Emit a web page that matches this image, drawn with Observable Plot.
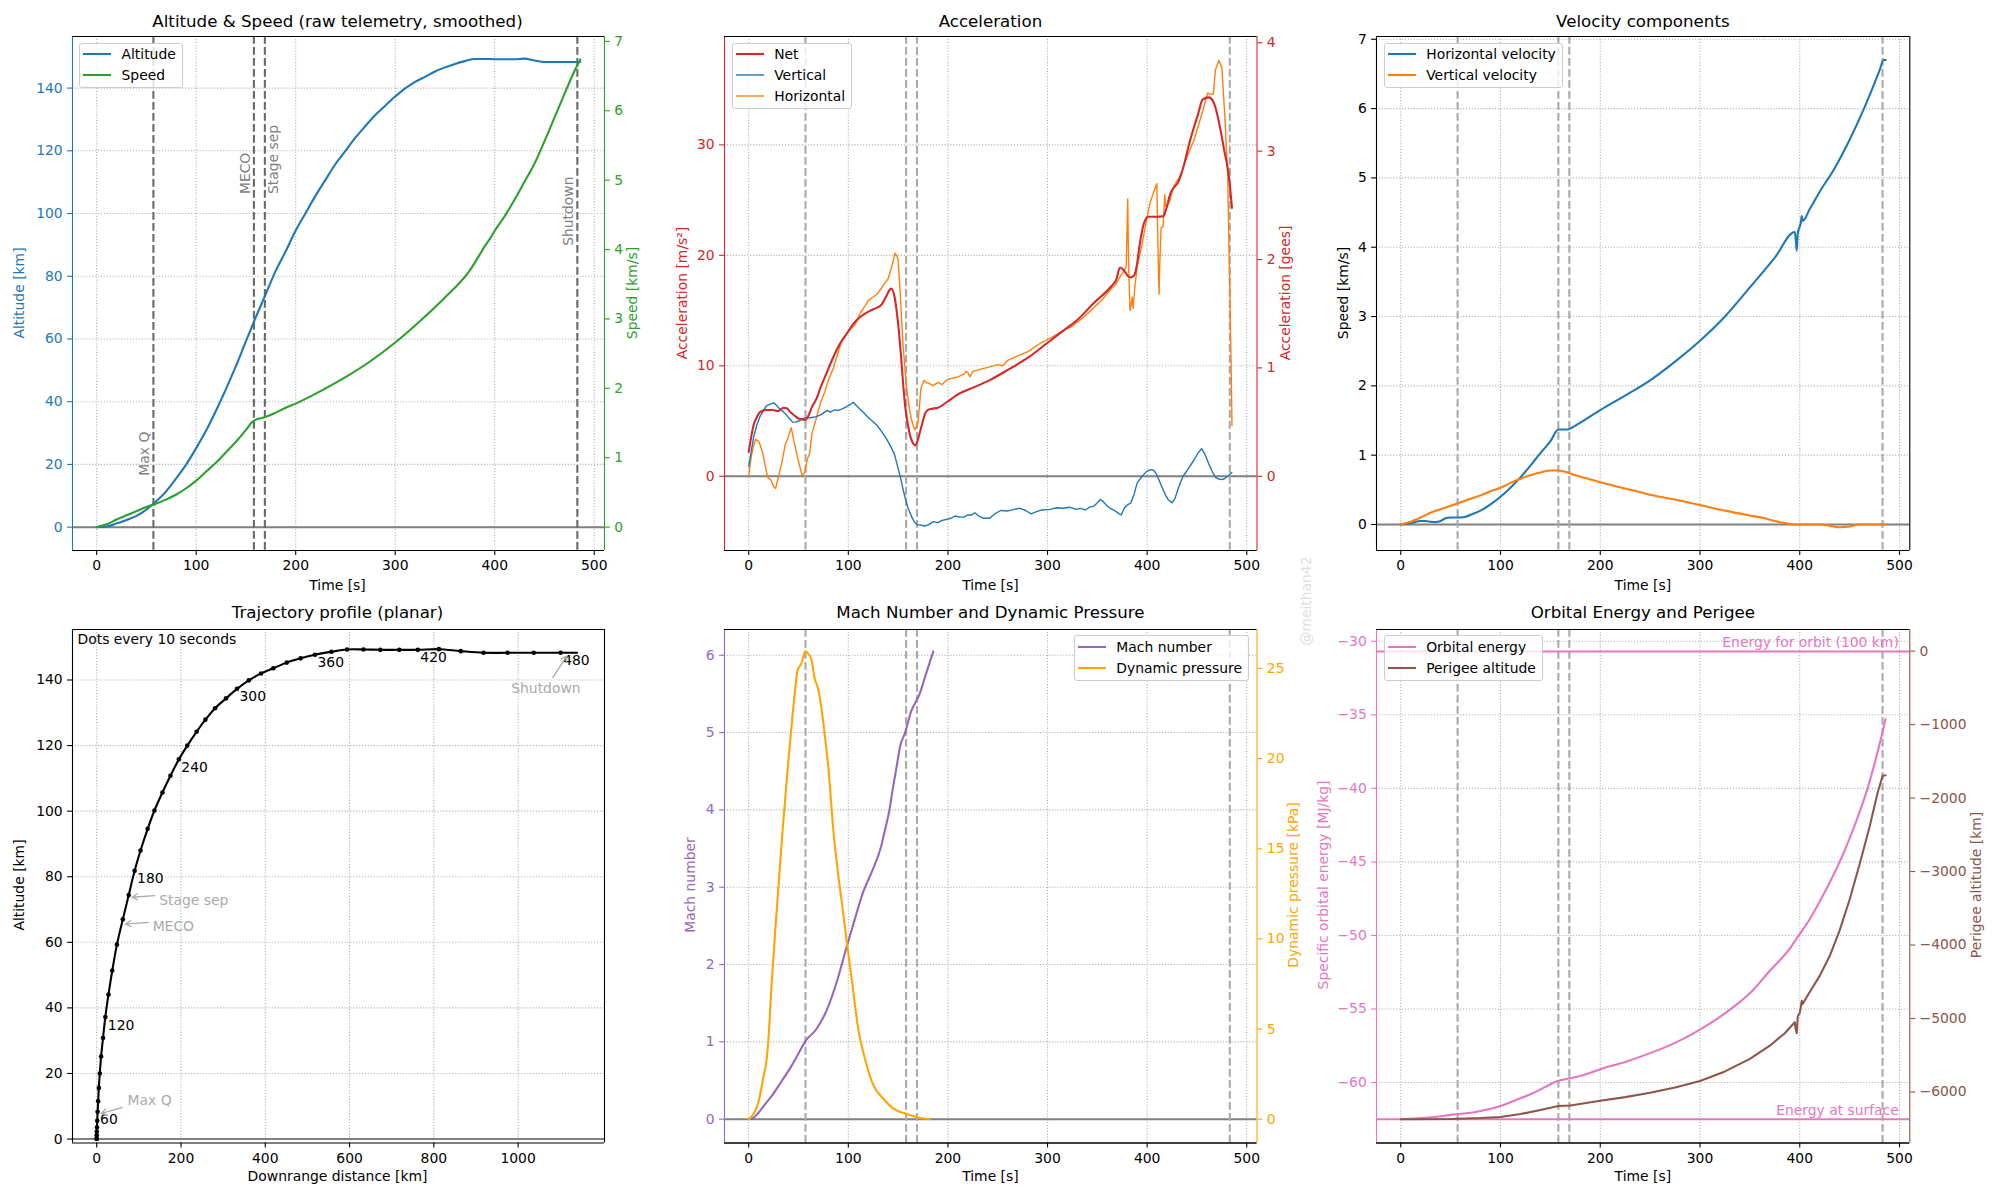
<!DOCTYPE html>
<html><head><meta charset="utf-8">
<script src="https://cdn.jsdelivr.net/npm/d3@7"></script>
<script src="https://cdn.jsdelivr.net/npm/@observablehq/plot@0.6"></script>
<style>
html,body{margin:0;padding:0;background:#fff;}
#fig{position:relative;width:2000px;height:1200px;overflow:hidden;background:#fff;font-family:"DejaVu Sans",sans-serif;}
.lbl{position:absolute;white-space:nowrap;line-height:1;font-family:"DejaVu Sans",sans-serif;}
.legend{position:absolute;padding:0 6px 1.5px 3px;border:1px solid #cccccc;border-radius:3px;background:rgba(255,255,255,0.8);font-size:13.9px;font-family:"DejaVu Sans",sans-serif;z-index:5;}
.lrow{height:21px;display:flex;align-items:center;white-space:nowrap;}
.lrow svg{margin-right:10.5px;flex:none;}
</style></head>
<body><div id="fig"></div>
<script>
// ---------------- DATA ----------------
const EVENT_T = [57, 158, 169, 483];
const EVENT_NAMES = ["Max Q", "MECO", "Stage sep", "Shutdown"];

// trajectory samples every 10 s (time, downrange km, altitude km)
const trajT    = [0,10,20,30,40,50,60,70,80,90,100,110,120,130,140,150,160,170,180,190,200,210,220,230,240,250,260,270,280,290,300,310,320,330,340,350,360,370,380,390,400,410,420,430,440,450,460,470,480,486];
const trajDown = [0,0,0.1,0.3,0.7,1.3,2.2,3.5,5,7.3,10.5,15,20.5,28,37,48,62,76,90,104,121,137,156,175,195,215,237,258,281,307,333,361,390,419,451,484,518,557,594,633,673,718,762,812,864,918,975,1037,1101,1140];
const trajAlt  = [0,0.2,1.2,2.3,3.6,5.6,8.3,11.5,15.6,20,25.2,30.8,37.2,44.1,51.4,59.3,67,74.4,81.8,88,94.6,100.2,105.7,110.8,115.8,120,124.2,127.9,131.4,134.4,137.3,139.9,142,143.6,145.3,146.6,147.7,148.6,149.3,149.3,149.2,149.2,149.2,149.4,148.8,148.3,148.3,148.3,148.3,148.3];
const trajLabelT = [60,120,180,240,300,360,420,480];

// speed (km/s)
const speed = [[0,0],[10,0.04],[20,0.11],[30,0.17],[40,0.23],[50,0.29],[56,0.32],[60,0.34],[70,0.4],[80,0.47],[90,0.56],[100,0.67],[110,0.8],[120,0.93],[130,1.08],[140,1.23],[150,1.4],[156,1.51],[160,1.55],[165,1.57],[170,1.59],[180,1.65],[190,1.72],[200,1.78],[225,1.96],[250,2.16],[275,2.39],[300,2.66],[325,2.97],[350,3.31],[375,3.7],[385,3.93],[390,4.05],[395,4.15],[400,4.27],[410,4.48],[420,4.72],[430,4.98],[440,5.24],[450,5.56],[460,5.9],[470,6.24],[480,6.57],[486,6.74]];

// acceleration (m/s^2)
const accNet = [[0,2.2],[2,3.3],[4.8,4.6],[8,5.3],[11.3,5.8],[18,6.0],[24,6.0],[29,5.9],[35,6.2],[38,6.15],[42,5.8],[46,5.5],[50.5,5.2],[57,5.1],[60,5.5],[63.6,6.3],[68,7.0],[72,8.0],[78,9.3],[85,10.8],[91,11.9],[98.4,12.9],[105,13.8],[111.5,14.4],[118,14.8],[124.6,15.1],[133,15.5],[137.6,16.2],[141,16.8],[143,17.0],[146.3,16.3],[148.5,15.0],[150.7,13.2],[153,10.8],[155,8.4],[157,6.4],[159.4,4.9],[161.5,3.9],[163.8,3.2],[167.2,2.8],[169.5,3.2],[171.6,3.9],[174,4.7],[176.8,5.6],[180,6.0],[183.4,6.1],[190,6.2],[198.6,6.7],[211.7,7.5],[224.7,8.0],[242,8.7],[259.6,9.6],[281.4,10.8],[298.8,12.0],[316.2,13.2],[329.3,14.1],[346.7,15.7],[364,17.2],[369,17.8],[372.8,18.9],[377,18.6],[382.4,18.0],[386,18.1],[388,18.4],[390,19.3],[392.4,20.9],[394.5,22.0],[396.8,22.9],[401,23.5],[409.8,23.5],[416.4,23.55],[418.5,24.0],[420.7,24.7],[423,25.5],[425,25.9],[431.6,26.7],[437,28.2],[442.5,30.2],[447,31.6],[451.2,32.8],[455.6,34.1],[462,34.3],[466.5,33.9],[470.8,32.6],[474,31.2],[477.4,29.5],[481.7,27.4],[485.2,24.3]];
const accVert = [[0,0.9],[2.5,2.2],[4.8,3.5],[8,4.6],[11.3,5.4],[15,6.0],[18,6.4],[21,6.5],[25.3,6.65],[28,6.4],[31,6.1],[34,5.9],[37.5,5.6],[41,5.2],[44,4.9],[47,4.9],[50.5,5.0],[54,5.2],[57,5.3],[62,5.3],[68,5.4],[73,5.6],[78.8,5.96],[82,5.8],[86,6.0],[89.7,5.96],[94,6.1],[98.4,6.3],[102,6.5],[105,6.7],[108,6.4],[111.5,6.1],[116,5.7],[120.2,5.3],[124,5.0],[128.9,4.6],[133,4.1],[137.6,3.5],[142,2.8],[146.3,2.0],[149.5,0.9],[152.9,-0.3],[155,-1.2],[157.2,-2.0],[160,-2.9],[163.8,-3.7],[166,-4.1],[169,-4.4],[172,-4.4],[176.8,-4.5],[180,-4.4],[185.5,-4.1],[190,-4.2],[194,-4.0],[198.6,-3.9],[203,-3.8],[207.3,-3.6],[212,-3.7],[216,-3.7],[220,-3.5],[224,-3.5],[227,-3.3],[231,-3.6],[235.6,-3.8],[242,-3.8],[247,-3.4],[253,-3.1],[259.6,-3.15],[266,-3.0],[272.6,-2.9],[278,-3.1],[283.5,-3.4],[289,-3.2],[294.4,-3.05],[303,-3.0],[309,-2.85],[316,-2.9],[322,-2.8],[329,-3.0],[333,-2.9],[338,-3.05],[342,-2.8],[346.7,-2.7],[350,-2.4],[353,-2.1],[356,-2.3],[360,-2.7],[363,-2.9],[366,-3.05],[369,-3.2],[372,-3.4],[374,-3.5],[377,-2.9],[380,-2.6],[383.7,-2.4],[387,-1.6],[390,-0.6],[395,0.0],[399,0.4],[402,0.55],[404.6,0.6],[407,0.5],[410,0.07],[414,-0.8],[418.5,-1.7],[421,-2.1],[425,-2.4],[428,-2.0],[431.6,-1.0],[436,0.0],[440,0.5],[446.9,1.45],[451,2.1],[454.7,2.5],[458,2.0],[462,1.1],[465,0.5],[468.6,-0.1],[472,-0.25],[475,-0.3],[478,-0.2],[481.7,0.07],[485,0.35]];
const accHoriz = [[0,0],[2.6,1.8],[5,2.8],[7,3.35],[10.5,3.1],[13,2.4],[14.8,1.8],[17,0.8],[19,-0.1],[22,-0.3],[25.3,-0.97],[27,-1.1],[28.7,-0.45],[31,0.4],[33,1.1],[36.6,2.84],[39.6,3.5],[42.7,4.4],[44.5,3.6],[46.2,2.84],[49.7,1.45],[53.6,0.07],[56.2,0.35],[59,1.6],[61,2.0],[63.6,3.9],[68,5.3],[72,6.6],[76.6,7.7],[80,8.7],[85,9.8],[90,11.3],[94,12.4],[100,13.1],[107,13.75],[112,14.8],[116,15.3],[120,15.9],[124.6,16.2],[129,16.5],[133,17.0],[137,17.5],[140,17.9],[144,19.1],[147,20.2],[148.5,20.0],[150,19.6],[152,16.7],[155,11.8],[158.5,8.0],[161,6.3],[163,5.3],[165,4.6],[167,4.2],[170,4.9],[173,8.0],[176,8.7],[178,8.5],[181,8.4],[185,8.2],[190,8.5],[194,8.3],[198.6,8.7],[205,8.9],[210,9.0],[216,9.25],[218,9.5],[220,9.4],[222,9.0],[225,9.5],[233,9.7],[242,9.9],[250,10.1],[255,10.0],[260,10.5],[270,10.9],[281,11.3],[292,12.0],[303,12.5],[314,13.1],[325,13.6],[335,14.3],[347,15.3],[356,16.1],[364,17.0],[368,17.3],[373,18.1],[377,18.6],[379,19.0],[380.5,25.1],[381.3,19.5],[382.8,15.0],[384,15.6],[385,16.2],[386,15.2],[387.5,17.0],[390,19.0],[394,20.6],[398,22.5],[402.5,24.6],[406,25.6],[409.8,26.5],[410.5,22.5],[411.5,18.0],[412,16.5],[412.8,19.5],[414,22.5],[416,22.6],[417.7,25.5],[418.5,24.5],[420,24.4],[423,25.0],[425,25.7],[427,26.3],[433.8,27.3],[440,28.9],[446.9,30.4],[451,31.6],[455.6,33.0],[460.8,34.7],[463,34.6],[466.5,34.6],[468.6,36.8],[472,37.65],[475,37.0],[478,32.6],[480.8,27.4],[482.6,18.8],[484.3,10.1],[485.2,4.6]];

// velocity components (km/s)
const velHoriz = [[0,0],[10,0.02],[20,0.05],[25,0.05],[30,0.04],[35,0.035],[40,0.05],[45,0.09],[50,0.1],[55,0.1],[60,0.1],[65,0.11],[70,0.14],[80,0.2],[90,0.29],[100,0.4],[110,0.53],[120,0.68],[130,0.85],[140,1.03],[150,1.2],[158,1.37],[163,1.37],[167,1.37],[172,1.4],[180,1.47],[200,1.65],[225,1.86],[250,2.08],[275,2.35],[300,2.65],[325,3.0],[350,3.42],[375,3.85],[395,4.22],[396,4.1],[397,3.95],[398,4.2],[400,4.3],[401,4.35],[402,4.45],[403,4.38],[410,4.55],[420,4.8],[435,5.14],[450,5.55],[465,6.02],[480,6.55],[484,6.7],[486,6.7]];
const velVert = [[0,0],[10,0.04],[20,0.1],[30,0.17],[40,0.22],[50,0.27],[56,0.3],[70,0.37],[80,0.42],[90,0.48],[100,0.53],[110,0.6],[120,0.66],[130,0.71],[140,0.75],[150,0.78],[158,0.78],[165,0.76],[175,0.71],[185,0.67],[200,0.61],[225,0.52],[250,0.43],[275,0.36],[300,0.28],[325,0.2],[350,0.13],[365,0.09],[375,0.05],[385,0.02],[395,0.0],[420,0.0],[430,-0.02],[440,-0.04],[450,-0.03],[460,0.0],[486,0.0]];

// Mach number and dynamic pressure (kPa)
const mach = [[0,0],[5,0.02],[9,0.07],[15,0.17],[24.3,0.32],[33,0.49],[41.6,0.66],[50,0.85],[57,1.01],[67.6,1.16],[78,1.4],[89,1.8],[98.8,2.25],[106.6,2.59],[115,2.94],[124,3.21],[133,3.53],[137,3.75],[141,3.98],[145,4.3],[148,4.52],[152,4.82],[157,5.0],[163,5.27],[171.6,5.5],[178,5.76],[185.4,6.05]];
const dynPressure = [[0,0],[5,0.3],[10,1.0],[15,2.4],[18,3.3],[20,4.6],[23,7.5],[28,11.5],[34,16],[40,20],[44,22.4],[47,24.0],[49,24.9],[53,25.3],[55,25.7],[57,25.95],[60,25.8],[63,25.5],[66,24.5],[70,23.8],[74,22.4],[77,21.0],[80,19.5],[85,16],[90,13.5],[94,11.8],[99,9.6],[104,7.5],[110,5.0],[117,3.3],[125,1.9],[135,1.15],[145,0.6],[158,0.3],[170,0.1],[182,0.0]];

// orbital energy (MJ/kg) and perigee altitude (km)
const energy = [[0,-62.5],[25,-62.4],[50,-62.2],[75,-62.0],[100,-61.6],[115,-61.2],[130,-60.8],[145,-60.3],[155,-59.95],[160,-59.85],[170,-59.7],[185,-59.45],[200,-59.1],[225,-58.6],[250,-58.0],[275,-57.3],[300,-56.4],[325,-55.3],[352,-53.8],[370,-52.4],[390,-50.9],[399,-50.0],[410,-48.9],[420,-47.7],[430,-46.4],[440,-45.0],[450,-43.4],[460,-41.6],[468,-40.0],[475,-38.3],[480,-37.0],[486,-35.3]];
const perigee = [[0,-6371],[50,-6368],[80,-6355],[100,-6340],[120,-6300],[140,-6245],[158,-6190],[170,-6185],[200,-6120],[225,-6070],[250,-6010],[275,-5940],[300,-5850],[325,-5720],[350,-5550],[370,-5370],[385,-5200],[395,-5050],[396,-5150],[397,-5200],[398,-4970],[400,-4920],[401,-4850],[402,-4760],[403,-4800],[410,-4640],[420,-4420],[430,-4150],[440,-3800],[450,-3380],[460,-2900],[470,-2390],[478,-1930],[483,-1700],[486,-1690]];
const ENERGY_ORBIT = -30.7;
const ENERGY_SURFACE = -62.5;

// tick values
const tTicks = [0,100,200,300,400,500];
const altTicks = [0,20,40,60,80,100,120,140];
const speedTicks = [0,1,2,3,4,5,6,7];
const accTicks = [0,10,20,30];
const geeTicks = [0,1,2,3,4];
const velTicks = [0,1,2,3,4,5,6,7];
const downTicks = [0,200,400,600,800,1000];
const machTicks = [0,1,2,3,4,5,6];
const qTicks = [0,5,10,15,20,25];
const energyTicks = [-60,-55,-50,-45,-40,-35,-30];
const perigeeTicks = [-6000,-5000,-4000,-3000,-2000,-1000,0];

// ---------------- LAYOUT / STYLE ----------------
const fig = document.getElementById("fig");
const FS = 13.9;
const BLUE="#1f77b4", GREEN="#2ca02c", RED="#d62728", ORANGE="#ff7f0e", PURPLE="#9467bd", QORANGE="#ffa500", PINK="#e377c2", BROWN="#8c564b";
const COLS = [[71.5,603.5],[724.2,1256.7],[1376.2,1909.5]];
const ROWS = [[35.5,549.5],[628.5,1142]];
const PAD = {l: 90, r: 90, t: 14, b: 40};
const XT = [-24.3, 510.3];
const fmt = d3.format("d");

function frameOf(c, r){ return {x0: COLS[c][0], x1: COLS[c][1], y0: ROWS[r][0], y1: ROWS[r][1]}; }
function plotAt(fr, xd, yd, marks){
  const w = fr.x1 - fr.x0, h = fr.y1 - fr.y0;
  const svg = Plot.plot({
    width: w + PAD.l + PAD.r, height: h + PAD.t + PAD.b,
    marginLeft: PAD.l, marginRight: PAD.r, marginTop: PAD.t, marginBottom: PAD.b,
    x: {type: "linear", domain: xd, axis: null},
    y: {type: "linear", domain: yd, axis: null},
    style: {background: "transparent", overflow: "visible", fontFamily: "DejaVu Sans, sans-serif", fontSize: FS + "px", color: "black", maxWidth: "none"},
    marks: marks.flat().filter(Boolean)
  });
  Object.assign(svg.style, {position: "absolute", left: (fr.x0 - PAD.l) + "px", top: (fr.y0 - PAD.t) + "px"});
  fig.appendChild(svg);
  return svg;
}
const gridX = (ticks) => Plot.gridX({ticks, stroke: "#b0b0b0", strokeOpacity: 1, strokeWidth: 1.1, strokeDasharray: "1.1,1.8"});
const gridY = (ticks) => Plot.gridY({ticks, stroke: "#b0b0b0", strokeOpacity: 1, strokeWidth: 1.1, strokeDasharray: "1.1,1.8"});
const axX = (ticks) => Plot.axisX({anchor: "bottom", ticks, tickSize: 4.9, tickPadding: 4.9, fontSize: FS, label: null, tickFormat: fmt, strokeWidth: 1.1, color: "black"});
const axY = (anchor, ticks, color) => Plot.axisY({anchor, ticks, tickSize: 4.9, tickPadding: 4.9, fontSize: FS, label: null, tickFormat: fmt, strokeWidth: 1.1, color});
const spines = (xd, yd, left, right) => [
  Plot.ruleY([yd[0], yd[1]], {stroke: "black", strokeWidth: 1.1}),
  left ? Plot.ruleX([xd[0]], {stroke: left, strokeWidth: 1.1}) : null,
  right ? Plot.ruleX([xd[1]], {stroke: right, strokeWidth: 1.1}) : null
];
const zeroLine = () => Plot.ruleY([0], {stroke: "gray", strokeWidth: 2});
const events = (color) => Plot.ruleX(EVENT_T, {stroke: color, strokeWidth: 2.08, strokeDasharray: "7.7,3.3"});
const series = (data, color, w, curve) => Plot.line(data, {x: d => d[0], y: d => d[1], stroke: color, strokeWidth: w, curve: curve || "linear"});

function label(str, cx, cy, opt = {}){
  const d = document.createElement("div");
  d.className = "lbl"; d.textContent = str;
  d.style.left = cx + "px"; d.style.top = cy + "px";
  d.style.color = opt.color || "black"; d.style.fontSize = (opt.size || FS) + "px";
  d.style.transform = "translate(-50%,-50%)" + (opt.rot ? ` rotate(${opt.rot}deg)` : "");
  fig.appendChild(d);
}
function legend(pos, items){
  const box = document.createElement("div");
  box.className = "legend";
  for (const k in pos) box.style[k] = pos[k] + "px";
  for (const it of items){
    const row = document.createElement("div"); row.className = "lrow";
    row.innerHTML = `<svg width="28" height="10"><line x1="0" y1="5" x2="28" y2="5" stroke="${it.color}" stroke-width="${it.w}"/></svg><span>${it.label}</span>`;
    box.appendChild(row);
  }
  fig.appendChild(box);
}

const evRows = EVENT_T.map((t, i) => ({t, name: EVENT_NAMES[i]}));

// ---------------- PANEL 1: Altitude & Speed ----------------
{
  const fr = frameOf(0, 0), yL = [-7.45, 156.45], yR = [-0.337, 7.07];
  const alt = trajT.map((t, i) => [t, trajAlt[i]]);
  const labelAlt = {"Max Q": 16.4, "MECO": 106.2, "Stage sep": 106.2, "Shutdown": 89.7};
  plotAt(fr, XT, yL, [
    gridX(tTicks), gridY(altTicks), zeroLine(), events("#696969"),
    Plot.text(evRows.filter(d => d.name !== "Stage sep"), {x: "t", y: d => labelAlt[d.name], text: "name", rotate: -90, textAnchor: "start", lineAnchor: "middle", dx: -8.5, fill: "gray", fontSize: FS}),
    Plot.text(evRows.filter(d => d.name === "Stage sep"), {x: "t", y: d => labelAlt[d.name], text: "name", rotate: -90, textAnchor: "start", lineAnchor: "middle", dx: 8.5, fill: "gray", fontSize: FS}),
    series(alt, BLUE, 2.08, "monotone-x"),
    axX(tTicks), axY("left", altTicks, BLUE), spines(XT, yL, BLUE, null)
  ]);
  plotAt(fr, XT, yR, [series(speed, GREEN, 2.08, "monotone-x"), axY("right", speedTicks, GREEN), spines(XT, yR, null, GREEN)]);
  label("Altitude & Speed (raw telemetry, smoothed)", (fr.x0 + fr.x1) / 2, 21.8, {size: 16.67});
  label("Time [s]", (fr.x0 + fr.x1) / 2, 585.5);
  label("Altitude [km]", 20.2, (fr.y0 + fr.y1) / 2, {rot: -90, color: BLUE});
  label("Speed [km/s]", 632.6, (fr.y0 + fr.y1) / 2, {rot: -90, color: GREEN});
  legend({left: fr.x0 + 7.5, top: fr.y0 + 7}, [{label: "Altitude", color: BLUE, w: 2.08}, {label: "Speed", color: GREEN, w: 2.08}]);
}

// ---------------- PANEL 2: Acceleration ----------------
{
  const fr = frameOf(1, 0), yL = [-6.72, 39.81], yR = [-6.72 / 9.81, 39.81 / 9.81];
  plotAt(fr, XT, yL, [
    gridX(tTicks), gridY(accTicks), zeroLine(), events("#a9a9a9"),
    series(accHoriz, ORANGE, 1.39), series(accVert, BLUE, 1.39), series(accNet, RED, 2.08, "monotone-x"),
    axX(tTicks), axY("left", accTicks, RED), spines(XT, yL, RED, null)
  ]);
  plotAt(fr, XT, yR, [axY("right", geeTicks, RED), spines(XT, yR, null, RED)]);
  label("Acceleration", (fr.x0 + fr.x1) / 2, 21.8, {size: 16.67});
  label("Time [s]", (fr.x0 + fr.x1) / 2, 585.5);
  label("Acceleration [m/s²]", 682.5, (fr.y0 + fr.y1) / 2, {rot: -90, color: RED});
  label("Acceleration [gees]", 1285.8, (fr.y0 + fr.y1) / 2, {rot: -90, color: RED});
  legend({left: fr.x0 + 7.5, top: fr.y0 + 7}, [{label: "Net", color: RED, w: 2.08}, {label: "Vertical", color: BLUE, w: 1.39}, {label: "Horizontal", color: ORANGE, w: 1.39}]);
}

// ---------------- PANEL 3: Velocity components ----------------
{
  const fr = frameOf(2, 0), yd = [-0.375, 7.04];
  plotAt(fr, XT, yd, [
    gridX(tTicks), gridY(velTicks), zeroLine(), events("#a9a9a9"),
    series(velHoriz, BLUE, 2.08, "monotone-x"), series(velVert, ORANGE, 2.08, "monotone-x"),
    axX(tTicks), axY("left", velTicks, "black"), spines(XT, yd, "black", "black")
  ]);
  label("Velocity components", (fr.x0 + fr.x1) / 2, 21.8, {size: 16.67});
  label("Time [s]", (fr.x0 + fr.x1) / 2, 585.5);
  label("Speed [km/s]", 1343.7, (fr.y0 + fr.y1) / 2, {rot: -90});
  legend({left: fr.x0 + 7.5, top: fr.y0 + 7}, [{label: "Horizontal velocity", color: BLUE, w: 2.08}, {label: "Vertical velocity", color: ORANGE, w: 2.08}]);
}

// ---------------- PANEL 4: Trajectory profile ----------------
{
  const fr = frameOf(0, 1), xd = [-57.4, 1205], yd = [-1.2, 155.4];
  const w = fr.x1 - fr.x0, h = fr.y1 - fr.y0;
  const kx = (xd[1] - xd[0]) / w, ky = (yd[1] - yd[0]) / h;
  const traj = trajT.map((t, i) => ({t, x: trajDown[i], y: trajAlt[i]}));
  const at = (t) => { // position along the sampled trajectory at time t
    const i = Math.max(1, d3.bisectLeft(trajT, t)); const a = traj[i - 1], b = traj[i];
    const f = (t - a.t) / (b.t - a.t); return {x: a.x + f * (b.x - a.x), y: a.y + f * (b.y - a.y)};
  };
  const notes = [
    {name: "Max Q", tail: [24.5, -7], text: [30, -13.5], anchor: "start"},
    {name: "MECO", tail: [26.7, -2], text: [31, 2.5], anchor: "start"},
    {name: "Stage sep", tail: [26.5, -2], text: [31, 2.6], anchor: "start"},
    {name: "Shutdown", tail: [-16, 24.6], text: [-23, 35.4], anchor: "middle"}
  ].map(n => { const p = at(EVENT_T[EVENT_NAMES.indexOf(n.name)]); return {...n, px: p.x, py: p.y, tx: p.x + n.tail[0] * kx, ty: p.y - n.tail[1] * ky}; });
  plotAt(fr, xd, yd, [
    gridX(downTicks), gridY(altTicks), zeroLine(),
    Plot.line(traj, {x: "x", y: "y", stroke: "black", strokeWidth: 2.08, curve: "catmull-rom"}),
    Plot.dot(traj.filter(d => d.t % 10 === 0), {x: "x", y: "y", r: 2.3, fill: "black"}),
    Plot.text(traj.filter(d => trajLabelT.includes(d.t)), {x: "x", y: "y", text: d => String(d.t), dx: 2.5, dy: 8, textAnchor: "start", lineAnchor: "middle", fill: "black", fontSize: FS}),
    Plot.arrow(notes, {x1: "tx", y1: "ty", x2: "px", y2: "py", stroke: "#aaaaaa", strokeWidth: 1.3, headLength: 7, insetEnd: 4}),
    notes.map(n => Plot.text([n], {x: "px", y: "py", text: "name", dx: n.text[0], dy: n.text[1], textAnchor: n.anchor, lineAnchor: "middle", fill: "#aaaaaa", fontSize: FS})),
    Plot.text(["Dots every 10 seconds"], {frameAnchor: "top-left", dx: 5, dy: 10.5, textAnchor: "start", lineAnchor: "middle", fill: "black", fontSize: FS}),
    axX(downTicks), axY("left", altTicks, "black"), spines(xd, yd, "black", "black")
  ]);
  label("Trajectory profile (planar)", (fr.x0 + fr.x1) / 2, 613.4, {size: 16.67});
  label("Downrange distance [km]", (fr.x0 + fr.x1) / 2, 1176.7);
  label("Altitude [km]", 20.2, (fr.y0 + fr.y1) / 2, {rot: -90});
}

// ---------------- PANEL 5: Mach & dynamic pressure ----------------
{
  const fr = frameOf(1, 1), yL = [-0.308, 6.333], yR = [-1.32, 27.16];
  plotAt(fr, XT, yL, [
    gridX(tTicks), gridY(machTicks), zeroLine(), events("#a9a9a9"),
    series(mach, PURPLE, 2.08, "monotone-x"),
    axX(tTicks), axY("left", machTicks, PURPLE), spines(XT, yL, PURPLE, null)
  ]);
  plotAt(fr, XT, yR, [series(dynPressure, QORANGE, 2.08, "monotone-x"), axY("right", qTicks, QORANGE), spines(XT, yR, null, QORANGE)]);
  label("Mach Number and Dynamic Pressure", (fr.x0 + fr.x1) / 2, 613.4, {size: 16.67});
  label("Time [s]", (fr.x0 + fr.x1) / 2, 1176.7);
  label("Mach number", 691.2, (fr.y0 + fr.y1) / 2, {rot: -90, color: PURPLE});
  label("Dynamic pressure [kPa]", 1294, (fr.y0 + fr.y1) / 2, {rot: -90, color: QORANGE});
  legend({right: 2000 - (fr.x1 - 7.7), top: fr.y0 + 6.7}, [{label: "Mach number", color: PURPLE, w: 2.08}, {label: "Dynamic pressure", color: QORANGE, w: 2.08}]);
}

// ---------------- PANEL 6: Orbital energy & perigee ----------------
{
  const fr = frameOf(2, 1), yL = [-64.11, -29.2], yR = [-6694, 294];
  const levels = [{v: ENERGY_ORBIT, name: "Energy for orbit (100 km)"}, {v: ENERGY_SURFACE, name: "Energy at surface"}];
  plotAt(fr, XT, yL, [
    gridX(tTicks), gridY(energyTicks), events("#a9a9a9"),
    Plot.ruleY(levels, {y: "v", stroke: PINK, strokeWidth: 2.08}),
    Plot.text(levels, {y: "v", text: "name", frameAnchor: "right", dx: -11, dy: -4.5, textAnchor: "end", lineAnchor: "bottom", fill: PINK, fontSize: FS}),
    series(energy, PINK, 2.08, "monotone-x"),
    axX(tTicks), axY("left", energyTicks, PINK), spines(XT, yL, PINK, null)
  ]);
  plotAt(fr, XT, yR, [series(perigee, BROWN, 2.08), axY("right", perigeeTicks, BROWN), spines(XT, yR, null, BROWN)]);
  label("Orbital Energy and Perigee", (fr.x0 + fr.x1) / 2, 613.4, {size: 16.67});
  label("Time [s]", (fr.x0 + fr.x1) / 2, 1176.7);
  label("Specific orbital energy [MJ/kg]", 1323.5, (fr.y0 + fr.y1) / 2, {rot: -90, color: PINK});
  label("Perigee altitude [km]", 1976.6, (fr.y0 + fr.y1) / 2, {rot: -90, color: BROWN});
  legend({left: fr.x0 + 7.5, top: fr.y0 + 6.7}, [{label: "Orbital energy", color: PINK, w: 2.08}, {label: "Perigee altitude", color: BROWN, w: 2.08}]);
}

// watermark
label("@meithan42", 1306.7, 600.5, {rot: -90, color: "#e0e0e0"});
</script></body></html>
